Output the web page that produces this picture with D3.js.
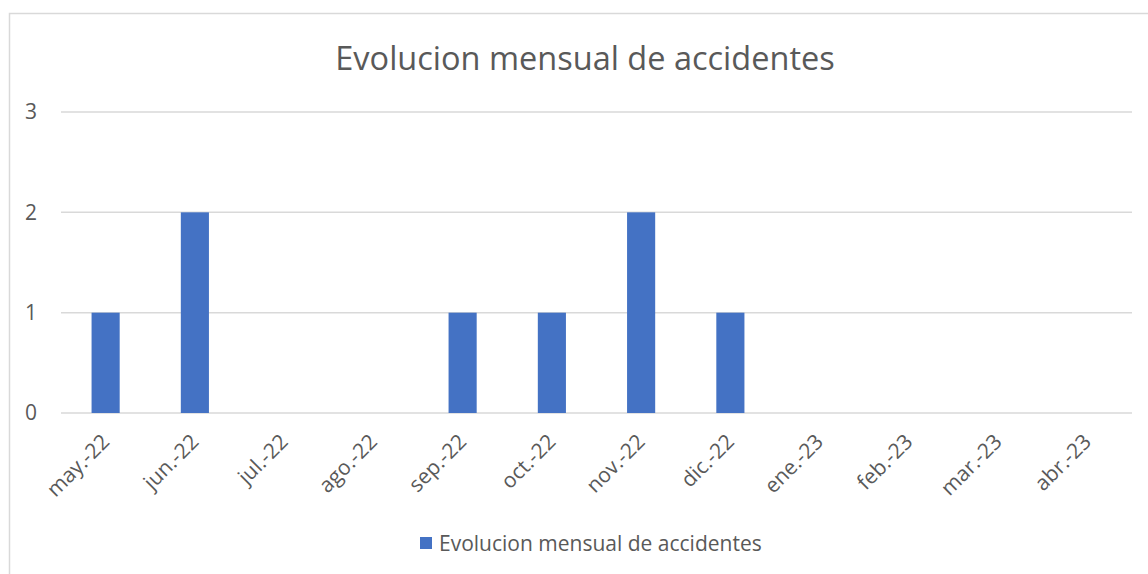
<!DOCTYPE html>
<html>
<head>
<meta charset="utf-8">
<script src="https://cdn.jsdelivr.net/npm/d3@7"></script>
<style>
  html, body { margin: 0; padding: 0; background: #fff; }
  svg { display: block; }
  svg text { font-family: "Open Sans", "Noto Sans", sans-serif; }
</style>
</head>
<body>
<svg id="chart" width="1148" height="574"></svg>
<script>
// Monthly accident counts, May 2022 to April 2023
const months = ["may.-22", "jun.-22", "jul.-22", "ago.-22", "sep.-22", "oct.-22",
                "nov.-22", "dic.-22", "ene.-23", "feb.-23", "mar.-23", "abr.-23"];
const accidents = [1, 2, 0, 0, 1, 1, 2, 1, 0, 0, 0, 0];
const yTicks = [0, 1, 2, 3];
const seriesName = "Evolucion mensual de accidentes";
const chartTitle = "Evolucion mensual de accidentes";

const svg = d3.select("#chart");
const W = 1148, H = 574;
const plot = { left: 61, right: 1132, top: 112, bottom: 413 };
const barColor = "#4472C4";
const textColor = "#595959";
const gridColor = "#D9D9D9";
const labelSize = "21px";

// Outer chart frame
svg.append("rect")
  .attr("x", 9.5).attr("y", 13.5)
  .attr("width", W + 10).attr("height", H + 10)
  .attr("fill", "none").attr("stroke", gridColor).attr("stroke-width", 1.5);

const x = d3.scaleBand().domain(months).range([plot.left, plot.right]).paddingInner(0.685).paddingOuter(0.3425);
const y = d3.scaleLinear().domain([0, 3]).range([plot.bottom, plot.top]);

// Horizontal gridlines
svg.append("g").selectAll("line").data(yTicks).join("line")
  .attr("x1", plot.left).attr("x2", plot.right)
  .attr("y1", d => y(d)).attr("y2", d => y(d))
  .attr("stroke", gridColor).attr("stroke-width", 1.5);

// Y axis labels
const yAxis = svg.append("g")
  .attr("transform", `translate(${plot.left - 24},0)`)
  .call(d3.axisLeft(y).tickValues(yTicks).tickSize(0).tickPadding(0).tickFormat(d3.format("d")));
yAxis.attr("font-family", null).attr("font-size", null);
yAxis.select(".domain").remove();
yAxis.selectAll("text").attr("fill", textColor).style("font-size", labelSize);

// Bars
svg.append("g").selectAll("rect").data(months).join("rect")
  .attr("x", d => x(d))
  .attr("width", x.bandwidth())
  .attr("y", (d, i) => y(accidents[i]))
  .attr("height", (d, i) => y(0) - y(accidents[i]))
  .attr("fill", barColor);

// X axis labels, rotated 45 degrees
const xAxis = svg.append("g")
  .attr("transform", `translate(0,${plot.bottom})`)
  .call(d3.axisBottom(x).tickSize(0).tickPadding(0));
xAxis.attr("font-family", null).attr("font-size", null);
xAxis.select(".domain").remove();
xAxis.selectAll("text")
  .attr("fill", textColor)
  .style("font-size", labelSize)
  .attr("text-anchor", "end")
  .attr("dy", "0")
  .attr("transform", "translate(5,30) rotate(-45)");

// Title
svg.append("text")
  .attr("x", 585).attr("y", 70)
  .attr("text-anchor", "middle")
  .attr("fill", textColor)
  .style("font-size", "32.5px")
  .text(chartTitle);

// Legend
const legend = svg.append("g").attr("transform", "translate(420,537)");
legend.append("rect").attr("width", 12).attr("height", 12).attr("fill", barColor);
legend.append("text").attr("x", 19).attr("y", 14)
  .attr("fill", textColor).style("font-size", labelSize).text(seriesName);
</script>
</body>
</html>
